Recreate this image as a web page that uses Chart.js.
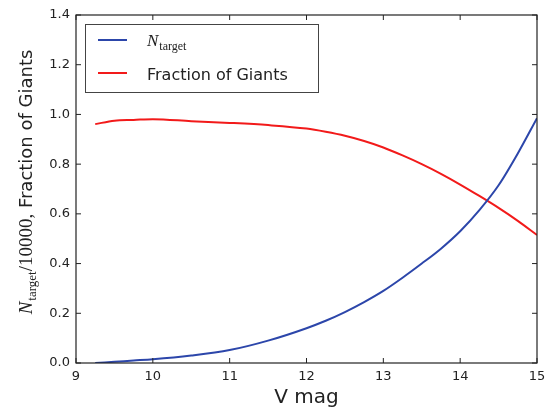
<!DOCTYPE html>
<html>
<head>
<meta charset="utf-8">
<script src="https://cdn.jsdelivr.net/npm/chart.js@4"></script>
<style>
  body { margin: 0; background: #fff; }
  canvas { display: block; }
</style>
</head>
<body>
<canvas id="myChart" width="553" height="412"></canvas>
<script>
// values
const vMag = [9.25, 9.5, 9.75, 10, 10.5, 11, 11.5, 12, 12.25, 12.5, 12.75, 13, 13.25, 13.5, 13.75, 14, 14.25, 14.5, 14.75, 15];
const nTarget = [0.0, 0.005, 0.01, 0.015, 0.03, 0.052, 0.09, 0.14, 0.17, 0.205, 0.245, 0.29, 0.343, 0.4, 0.46, 0.53, 0.615, 0.715, 0.843, 0.985];
const fracGiants = [0.961, 0.975, 0.978, 0.981, 0.973, 0.966, 0.957, 0.943, 0.93, 0.914, 0.893, 0.867, 0.835, 0.8, 0.761, 0.718, 0.672, 0.624, 0.572, 0.515];
const xTicks = [9, 10, 11, 12, 13, 14, 15];
const yTicks = [0, 0.2, 0.4, 0.6, 0.8, 1.0, 1.2, 1.4];

const blue = "#2c46aa";
const red = "#f21a1a";

function pts(ys) {
  return vMag.map((v, i) => ({ x: v, y: ys[i] }));
}

const SANS = "'DejaVu Sans', sans-serif";
const SERIF = "'Liberation Serif', 'DejaVu Serif', serif";

// draws "N_target" at (x, baseline y), returns width
function drawNtarget(ctx, x, y, size, measureOnly) {
  ctx.font = "italic " + size + "px " + SERIF;
  const w1 = ctx.measureText("N").width;
  const sub = Math.round(size * 0.68);
  ctx.font = sub + "px " + SERIF;
  const w2 = ctx.measureText("target").width;
  if (!measureOnly) {
    ctx.font = "italic " + size + "px " + SERIF;
    ctx.fillText("N", x, y);
    ctx.font = sub + "px " + SERIF;
    ctx.fillText("target", x + w1 + 1, y + size * 0.22);
  }
  return w1 + 1 + w2;
}

const framePlugin = {
  id: "frame",
  afterDraw(chart) {
    const ctx = chart.ctx;
    const a = chart.chartArea;
    const xs = chart.scales.x, ys = chart.scales.y;
    ctx.save();

    // axes frame
    ctx.strokeStyle = "#222";
    ctx.lineWidth = 1.2;
    ctx.strokeRect(a.left, a.top, a.right - a.left, a.bottom - a.top);

    // inward ticks on every side
    const len = 5;
    ctx.lineWidth = 1;
    ctx.beginPath();
    xTicks.forEach(t => {
      const px = xs.getPixelForValue(t);
      ctx.moveTo(px, a.bottom); ctx.lineTo(px, a.bottom - len);
      ctx.moveTo(px, a.top); ctx.lineTo(px, a.top + len);
    });
    yTicks.forEach(t => {
      const py = ys.getPixelForValue(t);
      ctx.moveTo(a.left, py); ctx.lineTo(a.left + len, py);
      ctx.moveTo(a.right, py); ctx.lineTo(a.right - len, py);
    });
    ctx.stroke();

    // legend
    const lx = a.left + 9, ly = a.top + 9;
    ctx.fillStyle = "#fff";
    ctx.fillRect(lx, ly, 233, 68);
    ctx.strokeStyle = "#444";
    ctx.lineWidth = 1;
    ctx.strokeRect(lx + 0.5, ly + 0.5, 233, 68);
    ctx.lineWidth = 2;
    ctx.strokeStyle = blue;
    ctx.beginPath(); ctx.moveTo(lx + 13, ly + 16); ctx.lineTo(lx + 42, ly + 16); ctx.stroke();
    ctx.strokeStyle = red;
    ctx.beginPath(); ctx.moveTo(lx + 13, ly + 49); ctx.lineTo(lx + 42, ly + 49); ctx.stroke();
    ctx.fillStyle = "#222";
    ctx.textBaseline = "alphabetic";
    ctx.textAlign = "left";
    drawNtarget(ctx, lx + 62, ly + 22, 17, false);
    ctx.font = "16px " + SANS;
    ctx.fillText("Fraction of Giants", lx + 62, ly + 56);

    // x axis title
    ctx.font = "20px " + SANS;
    ctx.textAlign = "center";
    ctx.fillText("V mag", (a.left + a.right) / 2, 403);

    // y axis title (rotated)
    ctx.translate(32, 182);
    ctx.rotate(-Math.PI / 2);
    ctx.textAlign = "left";
    const size = 19;
    const wN = drawNtarget(ctx, 0, 0, size, true);
    ctx.font = size + "px " + SERIF;
    const wS = ctx.measureText("/10000,").width;
    ctx.font = "18px " + SANS;
    const wF = ctx.measureText(" Fraction of Giants").width;
    let x0 = -(wN + wS + wF) / 2;
    drawNtarget(ctx, x0, 0, size, false);
    x0 += wN;
    ctx.font = size + "px " + SERIF;
    ctx.fillText("/10000,", x0, 0);
    x0 += wS;
    ctx.font = "18px " + SANS;
    ctx.fillText(" Fraction of Giants", x0, 0);

    ctx.restore();
  }
};

const ctx = document.getElementById("myChart");
new Chart(ctx, {
  type: "line",
  data: {
    datasets: [
      {
        label: "N_target",
        data: pts(nTarget),
        borderColor: blue,
        borderWidth: 2,
        pointRadius: 0,
        cubicInterpolationMode: "monotone",
        fill: false,
      },
      {
        label: "Fraction of Giants",
        data: pts(fracGiants),
        borderColor: red,
        borderWidth: 2,
        pointRadius: 0,
        cubicInterpolationMode: "monotone",
        fill: false,
      },
    ],
  },
  options: {
    responsive: false,
    animation: false,
    devicePixelRatio: 1,
    layout: { padding: { left: 0, right: 16, top: 15, bottom: 0 } },
    plugins: {
      legend: { display: false },
      tooltip: { enabled: false },
    },
    scales: {
      x: {
        type: "linear",
        min: 9,
        max: 15,
        afterFit(s) { s.height = 49; },
        afterBuildTicks(s) { s.ticks = xTicks.map(v => ({ value: v })); },
        grid: { display: false, drawTicks: false },
        border: { display: false },
        ticks: {
          padding: 6,
          color: "#222",
          font: { family: "DejaVu Sans", size: 13 },
          callback: v => String(v),
        },
      },
      y: {
        min: 0,
        max: 1.4,
        afterFit(s) { s.width = 76; },
        afterBuildTicks(s) { s.ticks = yTicks.map(v => ({ value: v })); },
        grid: { display: false, drawTicks: false },
        border: { display: false },
        ticks: {
          padding: 6,
          color: "#222",
          font: { family: "DejaVu Sans", size: 13 },
          callback: v => Number(v).toFixed(1),
        },
      },
    },
  },
  plugins: [framePlugin],
});
</script>
</body>
</html>
